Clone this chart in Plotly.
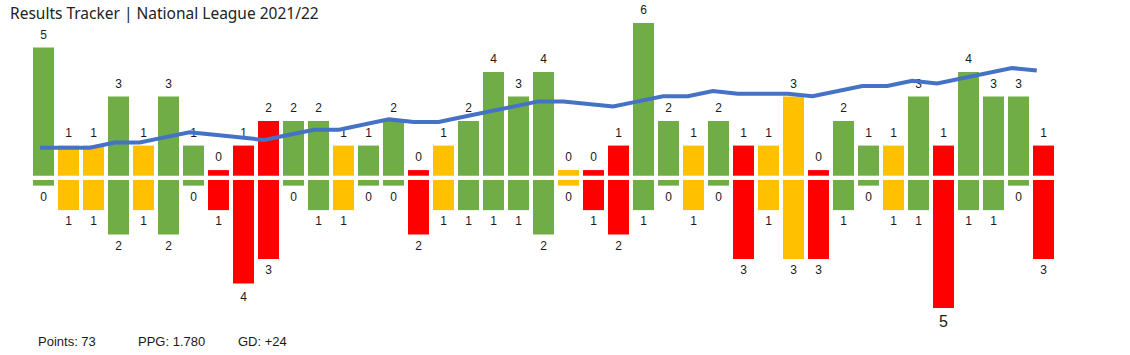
import plotly.graph_objects as go

# ---------------- data ----------------
matches = list(range(1, 42))
results = ["W", "D", "D", "W", "D", "W", "W", "L", "L", "L",
           "W", "W", "D", "W", "W", "L", "D", "W", "W", "W",
           "W", "D", "L", "L", "W", "W", "D", "W", "L", "D",
           "D", "L", "W", "W", "D", "W", "L", "W", "W", "W", "L"]
goals_for = [5, 1, 1, 3, 1, 3, 1, 0, 1, 2,
             2, 2, 1, 1, 2, 0, 1, 2, 4, 3,
             4, 0, 0, 1, 6, 2, 1, 2, 1, 1,
             3, 0, 2, 1, 1, 3, 1, 4, 3, 3, 1]
goals_against = [0, 1, 1, 2, 1, 2, 0, 1, 4, 3,
                 0, 1, 1, 0, 0, 2, 1, 1, 1, 1,
                 2, 0, 1, 2, 1, 0, 1, 0, 3, 1,
                 3, 3, 1, 0, 1, 1, 5, 1, 1, 0, 3]
# running form line (points above one-per-game pace)
form_line = [2, 2, 2, 4, 4, 6, 8, 7, 6, 5,
             7, 9, 9, 11, 13, 12, 12, 14, 16, 18,
             20, 20, 19, 18, 20, 22, 22, 24, 23, 23,
             23, 22, 24, 26, 26, 28, 27, 29, 31, 33, 32]
title_text = "Results Tracker | National League 2021/22"
stats_texts = ["Points: 73", "PPG: 1.780", "GD: +24"]

# ---------------- styles ----------------
COLORS = {"W": "#70AD47", "D": "#FFC000", "L": "#FF0000"}
STUB = 0.23          # minimum visible bar height (goal units)
GAP = 0.175          # white gap between top and bottom bars
LABEL_OFF = 0.49     # label distance from bar end
BAR_W = 0.84
TXT = "#1a1a1a"
ARIAL = "Liberation Sans, Arial, sans-serif"

W, H = 1130, 355

colors = [COLORS[r] for r in results]
top_vals = [g + STUB for g in goals_for]
bot_vals = [-(g + STUB) for g in goals_against]

fig = go.Figure()

fig.add_trace(go.Bar(x=matches, y=top_vals, base=0, width=BAR_W,
                     marker=dict(color=colors, line=dict(width=0)),
                     hoverinfo="skip", showlegend=False))
fig.add_trace(go.Bar(x=matches, y=bot_vals, base=-GAP, width=BAR_W,
                     marker=dict(color=colors, line=dict(width=0)),
                     hoverinfo="skip", showlegend=False))

# labels
fig.add_trace(go.Scatter(x=matches, y=[v + LABEL_OFF for v in top_vals],
                         mode="text", text=[str(g) for g in goals_for],
                         textposition="middle center",
                         textfont=dict(family=ARIAL, size=12, color=TXT),
                         hoverinfo="skip", showlegend=False, cliponaxis=False))
bot_sizes = [16 if g == 5 else 12 for g in goals_against]
bot_y = [-GAP + v - LABEL_OFF - (0.1 if g >= 4 else 0) for v, g in zip(bot_vals, goals_against)]
fig.add_trace(go.Scatter(x=matches, y=bot_y,
                         mode="text", text=[str(g) for g in goals_against],
                         textposition="middle center",
                         textfont=dict(family=ARIAL, size=bot_sizes, color=TXT),
                         hoverinfo="skip", showlegend=False, cliponaxis=False))

# form line
fig.add_trace(go.Scatter(x=matches, y=form_line, xaxis="x2", yaxis="y2",
                         mode="lines", line=dict(color="#4472C4", width=4),
                         hoverinfo="skip", showlegend=False, cliponaxis=False))

# pixel mapping (plot area = whole figure)
x_lo = 1 - 43.5 / 25
x_hi = 1 + (W - 43.5) / 25
x2_lo = 1 - 40 / 24.92
x2_hi = 1 + (W - 40) / 24.92
zero_px = 175.7
ppu = 24.5
y_hi = zero_px / ppu
y_lo = -(H - zero_px) / ppu
z2 = 152.8
ppu2 = 2.57
y2_hi = z2 / ppu2
y2_lo = -(H - z2) / ppu2

fig.update_layout(
    width=W, height=H,
    margin=dict(l=0, r=0, t=0, b=0, pad=0),
    paper_bgcolor="white", plot_bgcolor="white",
    barmode="overlay",
    xaxis=dict(range=[x_lo, x_hi], visible=False, fixedrange=True),
    xaxis2=dict(range=[x2_lo, x2_hi], overlaying="x", visible=False, fixedrange=True),
    yaxis=dict(range=[y_lo, y_hi], visible=False, fixedrange=True),
    yaxis2=dict(range=[y2_lo, y2_hi], overlaying="y", visible=False, fixedrange=True),
    title=dict(text=title_text, x=10 / W, xanchor="left", xref="paper",
               y=1 - 14 / H, yanchor="middle", yref="container",
               font=dict(family="Noto Sans, Open Sans, sans-serif", size=15.5, color="#222222")),
)

stats_x = [36, 136, 236]
for t, px in zip(stats_texts, stats_x):
    fig.add_annotation(text=t, x=px / W, xref="paper", xanchor="left",
                       y=1 - 341.5 / H, yref="paper", yanchor="middle",
                       showarrow=False,
                       font=dict(family=ARIAL, size=13, color=TXT))

fig.write_html("out.html", config={"displayModeBar": False},
               post_script="document.body.style.margin='0px';")
